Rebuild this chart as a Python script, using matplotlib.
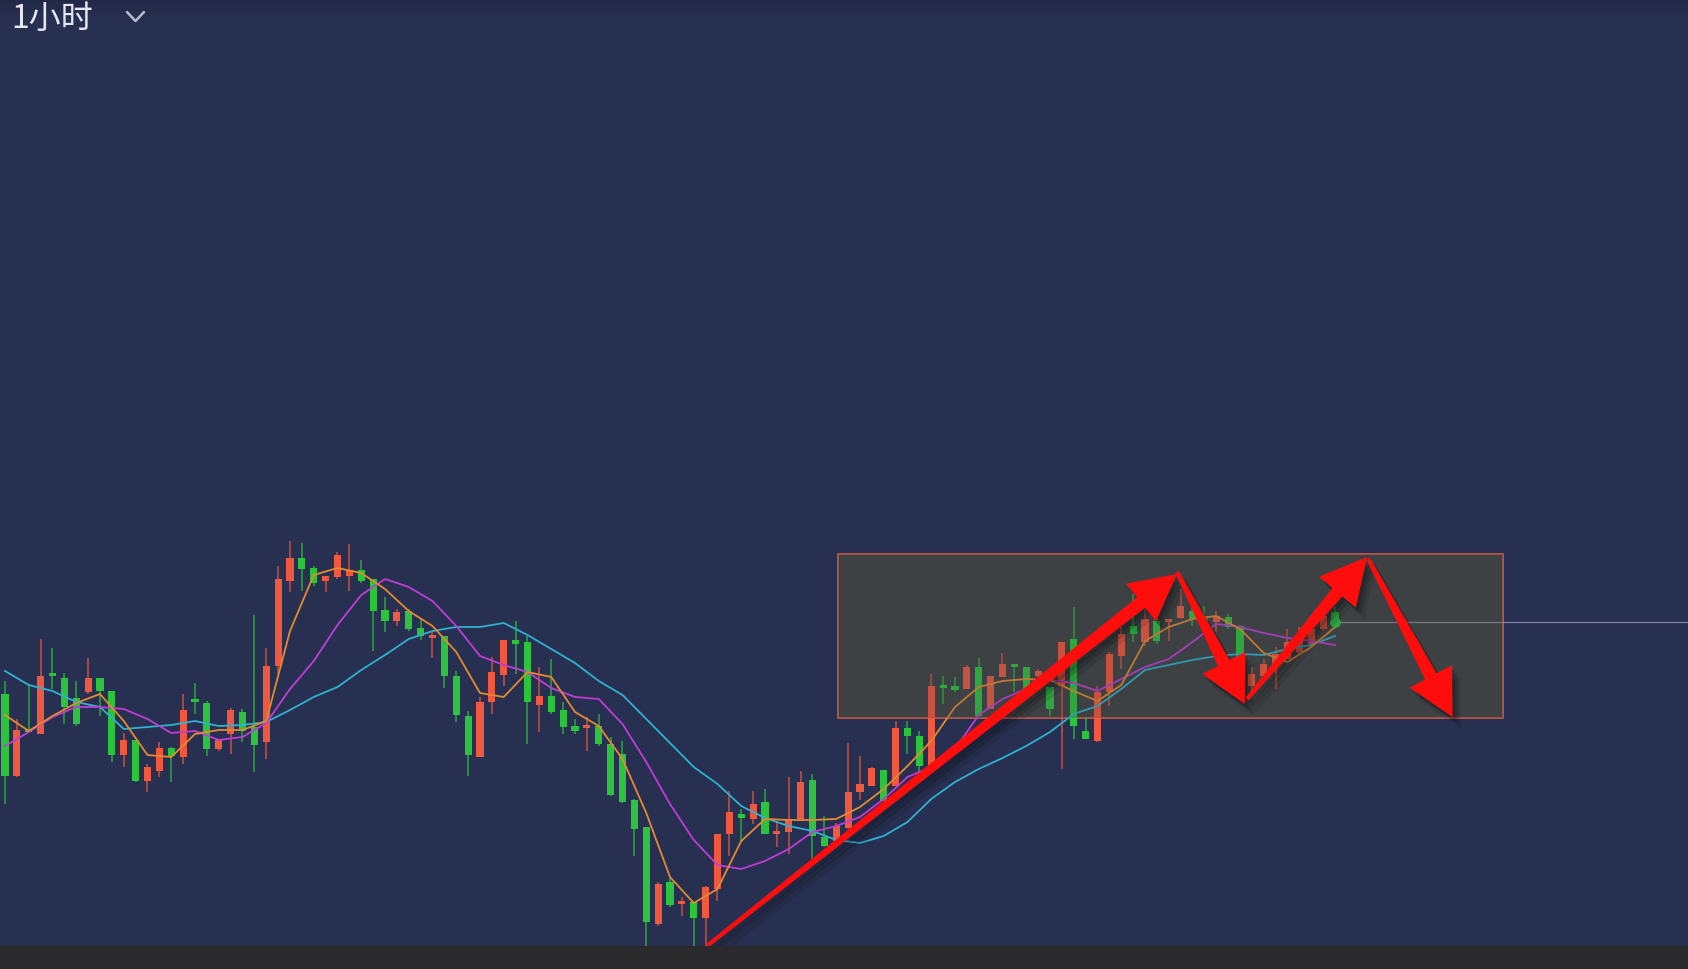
import numpy as np
import matplotlib
matplotlib.use("Agg")
import matplotlib.pyplot as plt
import matplotlib.patheffects as pe
from matplotlib.patches import Rectangle, Polygon
from matplotlib.lines import Line2D

plt.rcParams['font.family'] = ['Noto Sans CJK SC', 'DejaVu Sans']

# ---- data (1h candles, price units) ----
opens = [305, 223, 269, 265, 325, 321, 301, 307, 321, 308, 244, 259, 218, 228, 251, 242, 299, 296, 250, 265,
         287, 272, 257, 333, 418, 441, 431, 418, 422, 423, 429, 420, 389, 378, 388, 371, 361, 363, 323, 283,
         242, 297, 324, 359, 357, 294, 303, 289, 273, 271, 273, 255, 245, 199, 172, 75, 117, 95, 97, 81,
         110, 165, 185, 180, 197, 165, 167, 180, 219, 162, 158, 171, 207, 213, 229, 213, 271, 263, 230, 313,
         313, 310, 332, 290, 322, 334, 332, 323, 312, 313, 360, 268, 258, 307, 343, 373, 357, 378, 377, 381,
         388, 383, 377, 382, 373, 313, 323, 332, 340, 347, 355, 370, 387]
highs = [318, 280, 313, 360, 351, 326, 318, 341, 321, 308, 266, 259, 235, 257, 252, 305, 316, 298, 259, 291,
         290, 384, 351, 433, 458, 456, 433, 423, 447, 455, 439, 420, 402, 390, 390, 381, 367, 363, 328, 288,
         302, 342, 359, 378, 363, 332, 340, 297, 280, 282, 285, 262, 258, 200, 172, 117, 121, 102, 97, 113,
         165, 208, 190, 208, 210, 178, 222, 228, 225, 183, 176, 256, 243, 232, 229, 278, 278, 268, 325, 323,
         322, 334, 341, 323, 346, 335, 332, 330, 312, 357, 392, 282, 313, 347, 372, 405, 390, 380, 380, 410,
         395, 393, 388, 385, 374, 332, 340, 352, 370, 372, 375, 390, 392]
lows = [195, 222, 267, 265, 310, 275, 273, 305, 283, 237, 232, 217, 207, 222, 217, 235, 285, 243, 248, 245,
        257, 227, 240, 325, 407, 408, 413, 407, 420, 408, 416, 348, 367, 373, 368, 359, 341, 311, 277, 223,
        242, 285, 313, 325, 255, 267, 285, 265, 265, 248, 253, 203, 196, 143, 50, 73, 92, 83, 50, 50,
        98, 143, 157, 175, 165, 152, 145, 180, 140, 152, 153, 170, 199, 213, 198, 213, 245, 227, 228, 295,
        307, 310, 283, 290, 322, 307, 310, 321, 283, 230, 260, 260, 257, 293, 330, 357, 353, 355, 358, 380,
        373, 378, 367, 370, 330, 307, 320, 310, 340, 345, 352, 368, 370]
closes = [223, 269, 267, 323, 323, 292, 275, 321, 308, 244, 259, 218, 232, 251, 243, 289, 297, 250, 259, 289,
          268, 254, 333, 420, 441, 430, 416, 423, 444, 429, 418, 388, 378, 387, 370, 363, 363, 323, 284, 244,
          297, 327, 359, 355, 297, 303, 287, 272, 268, 273, 255, 204, 197, 170, 77, 115, 94, 97, 81, 112,
          165, 187, 181, 195, 165, 167, 180, 217, 163, 153, 173, 207, 215, 231, 198, 271, 263, 233, 313, 311,
          309, 332, 283, 323, 335, 332, 310, 328, 290, 357, 273, 260, 307, 345, 365, 365, 380, 358, 380, 393,
          380, 378, 383, 372, 332, 325, 335, 345, 357, 360, 370, 383, 377]

# moving averages, read every second candle
ma_idx = list(range(0, 113, 2))
ma_fast = [284, 268, 283, 296, 305, 278, 244, 242, 265, 269, 269, 278, 368, 424, 431, 426, 410, 388, 373, 347,
           306, 302, 327, 322, 287, 273, 240, 186, 122, 96, 110, 158, 180, 179, 179, 180, 192, 210, 233, 258,
           292, 312, 318, 320, 319, 308, 298, 314, 358, 372, 380, 383, 370, 346, 337, 352, 372]
ma_mid = [253, 267, 282, 292, 292, 290, 280, 266, 268, 259, 262, 276, 310, 338, 374, 404, 420, 412, 398, 373,
          343, 334, 327, 311, 302, 300, 275, 237, 195, 159, 134, 130, 138, 150, 167, 173, 182, 200, 222, 232,
          250, 284, 300, 310, 319, 316, 308, 320, 332, 340, 357, 375, 372, 366, 361, 358, 354]
ma_slow = [328, 314, 308, 297, 292, 270, 272, 274, 278, 273, 274, 277, 289, 302, 312, 329, 344, 360, 368, 372,
           372, 376, 364, 350, 336, 318, 304, 280, 256, 232, 215, 193, 181, 173, 168, 159, 156, 163, 177, 200,
           217, 230, 241, 253, 267, 285, 293, 310, 329, 334, 339, 343, 345, 344, 350, 354, 363]

last_price = closes[-1]

# hand drawn annotations (candle index, price)
box_x = (70.15, 126.15)
box_y = (281, 445)
arrows = [((59.1, 53), (98.7, 425)),
          ((98.7, 427), (104.4, 295)),
          ((104.6, 300), (114.7, 442)),
          ((114.8, 440), (121.9, 282))]

# ---- figure ----
W, H = 1688, 970
BG = '#283051'
UP, DOWN = '#f0583f', '#2cc33f'

fig = plt.figure(figsize=(W / 100, H / 100), dpi=100, facecolor=BG)
ax = fig.add_axes([0, 0, 1, 1])
ax.set_facecolor(BG)
step = 11.875
ax.set_xlim(-5 / step, (W - 5) / step)
ax.set_ylim(30, 1000)
ax.axis('off')

x = np.arange(len(closes))
o = np.array(opens); c = np.array(closes)
hi = np.array(highs); lo = np.array(lows)
cols = np.where(c >= o, UP, DOWN)

# range box
ax.add_patch(Rectangle((box_x[0], box_y[0]), box_x[1] - box_x[0], box_y[1] - box_y[0],
                       facecolor='#3d4144', edgecolor='#c45a4a', lw=1.3, zorder=1))

ax.vlines(x, lo, hi, colors=cols, lw=1.1, alpha=0.8, zorder=2)
body_bottom = np.minimum(o, c)
body_h = np.maximum(np.abs(c - o), 3)
ax.bar(x, body_h, bottom=body_bottom, width=0.6, color=cols, zorder=3)

ax.plot(ma_idx, ma_slow, color='#2fb0cf', lw=1.3, zorder=4)
ax.plot(ma_idx, ma_mid, color='#c03cd6', lw=1.3, zorder=4)
ax.plot(ma_idx, ma_fast, color='#e4892f', lw=1.3, zorder=4)

# last price line + marker
ax.plot([x[-1] + 0.2, ax.get_xlim()[1]], [last_price, last_price], color='#9a9ab4', lw=0.9, alpha=0.8, zorder=4)
ax.scatter([x[-1]], [last_price], s=45, color=DOWN, zorder=5)

# soften candles inside the box a little
ax.add_patch(Rectangle((box_x[0], box_y[0]), box_x[1] - box_x[0], box_y[1] - box_y[0],
                       facecolor='#3d4144', edgecolor='none', alpha=0.22, zorder=5))


def tapered_arrow(tail, tip, w_tail=4, w_neck=13, head_w=48, head_len=46):
    p0 = ax.transData.transform(tail)
    p1 = ax.transData.transform(tip)
    d = p1 - p0
    u = d / np.hypot(*d)
    n = np.array([-u[1], u[0]])
    neck = p1 - u * head_len
    pts = [p0 + n * w_tail / 2, neck + n * w_neck / 2, neck + n * head_w / 2, p1,
           neck - n * head_w / 2, neck - n * w_neck / 2, p0 - n * w_tail / 2]
    data = ax.transData.inverted().transform(pts)
    poly = Polygon(data, closed=True, facecolor='#ff0c0c', edgecolor='none', zorder=6)
    poly.set_path_effects([pe.SimplePatchShadow(offset=(6, -8), shadow_rgbFace='#000000', alpha=0.10),
                           pe.SimplePatchShadow(offset=(4, -5), shadow_rgbFace='#000000', alpha=0.15),
                           pe.SimplePatchShadow(offset=(2, -3), shadow_rgbFace='#000000', alpha=0.15),
                           pe.Normal()])
    ax.add_patch(poly)


for tail, tip in arrows:
    tapered_arrow(tail, tip)

# top bar shading (soft) and bottom strip
for k, a in enumerate([0.55, 0.45, 0.35, 0.25, 0.15, 0.08]):
    fig.patches.append(Rectangle((0, 1 - (k + 1) * 3 / H), 1, 3 / H, transform=fig.transFigure,
                                 facecolor='#1c2140', edgecolor='none', alpha=a, zorder=1))
fig.patches.append(Rectangle((0, 0), 1, 23 / H, transform=fig.transFigure,
                             facecolor='#2a2a2c', edgecolor='none', zorder=1))

# timeframe selector
fig.text(11 / W, 1 - 19 / H, '1小时', fontsize=23, color='#e6e8f0', va='center', ha='left')
fig.add_artist(Line2D([127 / W, 135.5 / W, 144 / W], [1 - 13 / H, 1 - 22 / H, 1 - 13 / H],
                      transform=fig.transFigure, color='#b8bccb', lw=1.8, solid_capstyle='round'))

fig.savefig('out.png', dpi=100, facecolor=BG)
